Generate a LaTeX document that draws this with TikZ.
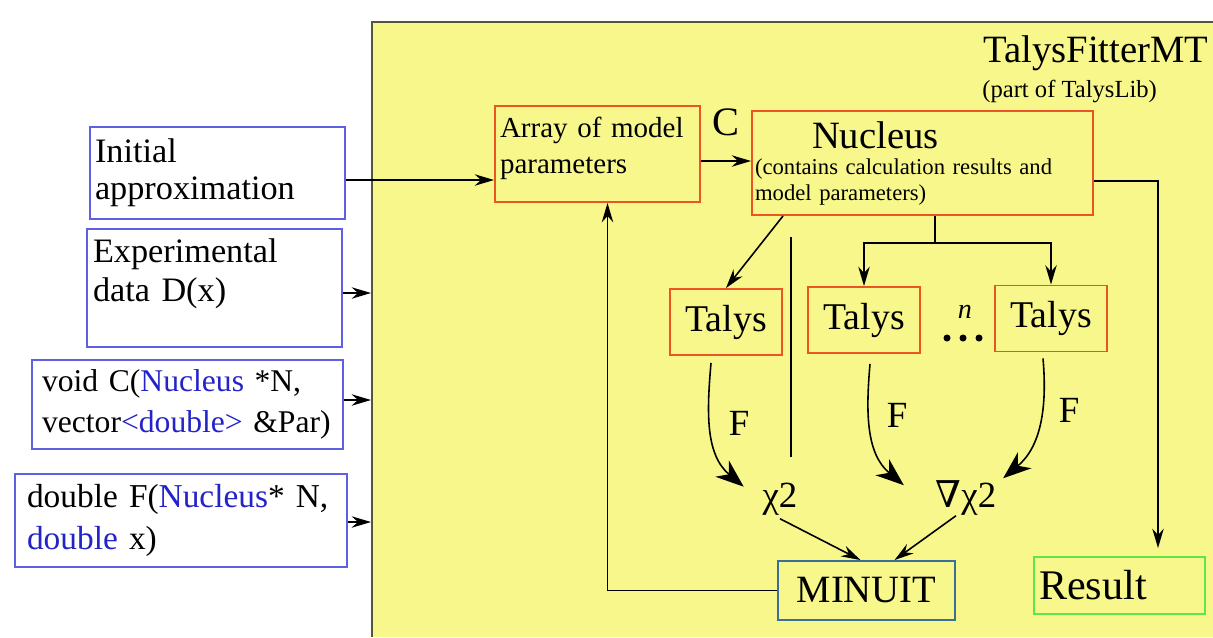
\documentclass[tikz,border=0pt]{standalone}
\usepackage{fontspec}
\setmainfont{Liberation Serif}
\newfontfamily\symfont{DejaVu Serif}
\usetikzlibrary{arrows.meta,calc}
\definecolor{frameyellow}{RGB}{247,247,140}
\definecolor{frameline}{RGB}{85,85,60}
\definecolor{inblue}{RGB}{95,95,230}
\definecolor{boxred}{RGB}{235,85,35}
\definecolor{codeblue}{RGB}{35,35,200}
\definecolor{minuitblue}{RGB}{60,110,150}
\definecolor{resgreen}{RGB}{95,230,75}
\newcommand{\kw}[1]{\textcolor{codeblue}{#1}}

\begin{document}
\begin{tikzpicture}[x=0.02cm,y=-0.02cm,>=Stealth,
  every node/.style={inner sep=0pt},
  inbox/.style={draw=inblue,line width=0.8pt,align=left},
  redbox/.style={draw=boxred,line width=1.1pt},
  talys/.style={redbox,minimum width=2.24cm,minimum height=1.32cm,font=\fontsize{21.5}{24}\selectfont},
  flabel/.style={font=\fontsize{21}{22}\selectfont},
  flow/.style={->,line width=0.9pt,>={Stealth[length=11pt,width=6.5pt]}},
  bigflow/.style={->,line width=0.9pt,>={Stealth[length=16pt,width=12pt,inset=5pt]}}]
  \useasboundingbox (0,0) rectangle (1213,637);
  \fill[white] (0,0) rectangle (1213,637);
  % yellow frame of the fitter
  \fill[frameyellow] (372,22) rectangle (1213,637);
  \draw[frameline,line width=1.2pt] (1213,22) -- (372,22) -- (372,637);
  \coordinate (frameL) at (371,0);
  % inputs on the left
  \node[inbox,minimum width=5.1cm,minimum height=1.84cm,text width=4.9cm,
        font=\fontsize{19.5}{21}\selectfont] (init) at (217.5,173) {Initial\\approximation};
  \node[inbox,minimum width=5.1cm,minimum height=2.36cm,text width=4.86cm,
        font=\fontsize{19.5}{22.2}\selectfont] (expdata) at (214.5,288) {Experimental\\data D(x)\\[-2pt]\mbox{}};
  \node[inbox,minimum width=6.22cm,minimum height=1.78cm,text width=5.82cm,
        font=\fontsize{18}{23.3}\selectfont] (cfunc) at (187.5,404.5) {void C(\kw{Nucleus} *N,\\vector\kw{<double>} \&Par)};
  \node[inbox,minimum width=6.64cm,minimum height=1.86cm,text width=6.16cm,
        font=\fontsize{19}{24.4}\selectfont] (ffunc) at (181,520.5) {double F(\kw{Nucleus}* N,\\\kw{double} x)};
  % title
  \node[anchor=base west,font=\fontsize{22}{22}\selectfont] (title) at (983,62) {TalysFitterMT};
  \node[anchor=base west,font=\fontsize{14}{15}\selectfont] (subtitle) at (982,97) {(part of TalysLib)};
  % parameters and nucleus
  \node[redbox,minimum width=4.1cm,minimum height=1.92cm,text width=3.9cm,align=left,
        font=\fontsize{16.5}{20.4}\selectfont] (params) at (597.5,154) {Array of model\\parameters\\[-10pt]\mbox{}};
  \node[font=\fontsize{23}{23}\selectfont] (clabel) at (726,122) {C};
  \node[redbox,minimum width=6.82cm,minimum height=2.08cm,text width=6.7cm,align=left,
        font=\fontsize{12.9}{14.8}\selectfont] (nucleus) at (922.5,163)
        {\hspace*{1.14cm}{\fontsize{22}{22}\selectfont Nucleus}\\(contains calculation results and\\model parameters)};
  % talys runs
  \node[talys] (tal1) at (726,322) {Talys};
  \node[talys] (tal2) at (864,320) {Talys};
  \node[talys] (tal3) at (1051,318.5) {Talys};
  \node[font=\itshape\fontsize{16}{16}\selectfont] (nlabel) at (965,312) {n};
  \foreach \x in {947,963,979} {
    \fill (\x,338) circle (2pt);
  }
  % chi2 and gradient
  \node[anchor=base,inner sep=2pt,font=\fontsize{21}{22}\selectfont] (chi) at (780,507) {χ2};
  \node[anchor=base,inner sep=2pt,font=\fontsize{21}{22}\selectfont] (grad) at (966,507) {{\symfont ∇}χ2};
  \node[flabel] (f1) at (739,423) {F};
  \node[flabel] (f2) at (897,415) {F};
  \node[flabel] (f3) at (1069,410) {F};
  % minimizer and result
  \node[draw=minuitblue,line width=1.1pt,minimum width=3.54cm,minimum height=1.18cm,
        font=\fontsize{22}{24}\selectfont] (minuit) at (866.5,590.5) {MINUIT};
  \node[draw=resgreen,line width=1.1pt,minimum width=3.42cm,minimum height=1.14cm,text width=3.22cm,
        align=left,font=\fontsize{24}{26}\selectfont] (result) at (1119.5,585.5) {Result};
  % connectors
  \draw[flow] (init.east |- 0,180) -- (params.west |- 0,180);
  \draw[flow] (expdata.east |- 0,293) -- (frameL |- 0,293);
  \draw[flow] (cfunc.east |- 0,400) -- (frameL |- 0,400);
  \draw[flow] (ffunc.east |- 0,522) -- (frameL |- 0,522);
  \draw[flow] (params.east |- 0,161) -- (nucleus.west |- 0,161);
  \draw[flow] (783,0 |- nucleus.south) -- (tal1.north);
  \draw[line width=0.9pt] (791,237) -- (791,457);
  \coordinate (split) at (935,243);
  \draw[line width=0.9pt] (935,0 |- nucleus.south) -- (split);
  \draw[flow] (split) -| (tal2.north);
  \draw[flow] (split) -| (tal3.north);
  \draw[bigflow] ($(tal1.south)+(-15,7)$) to[out=-95,in=140] ($(chi.north west)+(-15,8)$);
  \draw[bigflow] ($(tal2.south)+(6,10)$) to[out=-95,in=140] ($(grad.north west)+(-28,9)$);
  \draw[bigflow] ($(tal3.south)+(-8,6)$) to[out=-85,in=40] ($(grad.north east)+(3,2)$);
  \draw[flow] (chi.south) -- ($(minuit.north)+(-6,0)$);
  \draw[flow] ($(grad.south)+(-10,-3)$) -- ($(minuit.north)+(28,0)$);
  \draw[flow] (minuit.west) -| ($(params.south)+(10,0)$);
  \draw[flow] (nucleus.east |- 0,181) -| ($(result.north)+(38.5,-8)$);
\end{tikzpicture}
\end{document}
